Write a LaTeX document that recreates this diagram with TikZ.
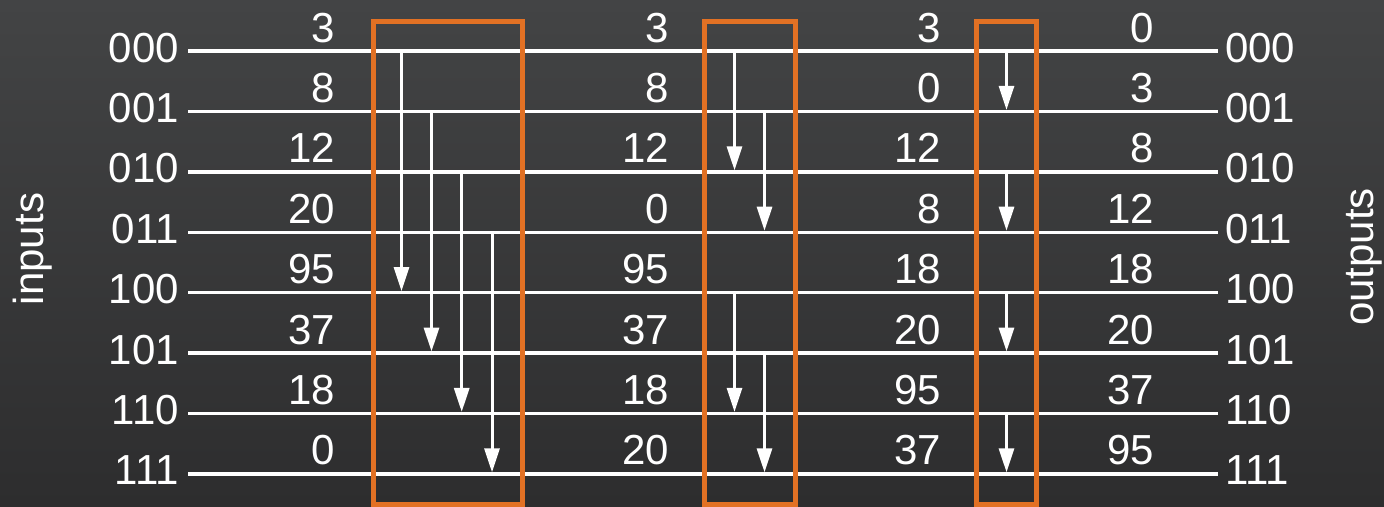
\documentclass[tikz,border=0pt]{standalone}
\usepackage{fontspec}
\setmainfont{Liberation Sans}
\usetikzlibrary{arrows.meta}
\definecolor{boxorange}{RGB}{226,113,36}
\definecolor{bgtop}{RGB}{67,68,69}
\definecolor{bgbot}{RGB}{45,45,46}
\begin{document}
\begin{tikzpicture}[x=1pt,y=-1pt,
  wire/.style={white,line width=3.4pt},
  arr/.style={white,line width=3pt,-{Triangle[length=24pt,width=15pt]}},
  stagebox/.style={draw=boxorange,line width=5pt,inner sep=0pt,outer sep=0pt},
  lbl/.style={text=white,inner sep=0pt,font=\fontsize{42}{50}\selectfont}]
\fill[top color=bgtop,bottom color=bgbot] (0,0) rectangle (1384,506);
\useasboundingbox (0,0) rectangle (1384,506);
% wires and index labels
\foreach \i/\lab in {0/000,1/001,2/010,3/011,4/100,5/101,6/110,7/111}{
  \pgfmathsetmacro\yy{51+60.4*\i}
  \coordinate (w\i l) at (188,\yy);
  \coordinate (w\i r) at (1218,\yy);
  \draw[wire] (w\i l) -- (w\i r);
  \node[lbl,anchor=base east] (in\i) at (179,{\yy+11}) {\lab};
  \node[lbl,anchor=base west] (out\i) at (1225,{\yy+11}) {\lab};
}
% values
\foreach \c/\xx/\vals in {1/335/{3,8,12,20,95,37,18,0},2/669/{3,8,12,0,95,37,18,20},3/941/{3,0,12,8,18,20,95,37},4/1154/{0,3,8,12,18,20,37,95}}{
  \foreach \v [count=\k from 0] in \vals{
    \pgfmathsetmacro\yy{51+60.4*\k-9}
    \node[lbl,anchor=base east] (v\c-\k) at (\xx,\yy) {\v};
  }
}
% stage 1 arrows: i -> i+4
\foreach \i/\xx in {0/401.5,1/431.5,2/461.7,3/492}{
  \pgfmathsetmacro\ya{51+60.4*\i}
  \pgfmathsetmacro\yb{51+60.4*(\i+4)-1.5}
  \coordinate (a1s\i) at (\xx,\ya);
  \coordinate (a1e\i) at (\xx,\yb);
  \draw[arr] (a1s\i) -- (a1e\i);
}
% stage 2 arrows: i -> i+2
\foreach \i/\xx in {0/734.5,1/764.5,4/734.5,5/764.5}{
  \pgfmathsetmacro\ya{51+60.4*\i}
  \pgfmathsetmacro\yb{51+60.4*(\i+2)-1.5}
  \coordinate (a2s\i) at (\xx,\ya);
  \coordinate (a2e\i) at (\xx,\yb);
  \draw[arr] (a2s\i) -- (a2e\i);
}
% stage 3 arrows: i -> i+1
\foreach \i in {0,2,4,6}{
  \pgfmathsetmacro\ya{51+60.4*\i}
  \pgfmathsetmacro\yb{51+60.4*(\i+1)-1.5}
  \coordinate (a3s\i) at (1006.5,\ya);
  \coordinate (a3e\i) at (1006.5,\yb);
  \draw[arr] (a3s\i) -- (a3e\i);
}
% stage boxes
\node[stagebox,minimum width=149pt,minimum height=483pt] (box1) at (447.5,262.5) {};
\node[stagebox,minimum width=91pt,minimum height=483pt] (box2) at (749.5,262.5) {};
\node[stagebox,minimum width=60pt,minimum height=483pt] (box3) at (1006,262.5) {};
% side labels
\node[lbl,rotate=90,anchor=base] (inputs) at (43,249) {inputs};
\node[lbl,rotate=90,anchor=base] (outputs) at (1373,257) {outputs};
\end{tikzpicture}
\end{document}
